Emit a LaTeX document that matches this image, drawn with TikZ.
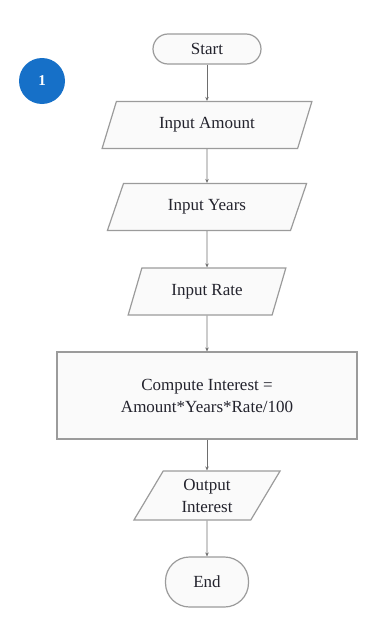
\documentclass[tikz,border=0pt]{standalone}
\usepackage{fontspec}
\setmainfont{Liberation Serif}
\usepackage{xcolor}
\usetikzlibrary{arrows.meta,shapes.geometric}
\definecolor{flowEdge}{RGB}{155,155,155}
\definecolor{flowLine}{RGB}{110,110,110}
\definecolor{flowFill}{RGB}{250,250,250}
\definecolor{flowText}{RGB}{35,35,45}
\definecolor{stepBlue}{RGB}{22,112,200}

\tikzset{
    base/.style={draw=flowEdge, line width=1.2pt, fill=flowFill, text=flowText,
        font=\fontsize{17}{22}\selectfont, align=center, inner sep=0pt},
    terminal/.style={base, rectangle, rounded corners=15pt},
    io/.style={base, trapezium, trapezium left angle=63, trapezium right angle=117,
        trapezium stretches=true, minimum height=47pt},
    process/.style={base, rectangle, minimum width=300pt, minimum height=87pt},
    flow/.style={draw=flowLine, line width=0.9pt, -{Stealth[length=4pt,width=3.5pt]}},
}

\begin{document}
\begin{tikzpicture}[x=1pt,y=-1pt]
    \useasboundingbox (0,0) rectangle (380,637);

    % step badge
    \node[circle, fill=stepBlue, minimum size=46pt, inner sep=0pt, text=white,
        font=\fontsize{15}{15}\selectfont\bfseries] (badge) at (42,81) {1};

    % flow chart
    \node[terminal, minimum width=108pt, minimum height=30pt] (start) at (207,49) {Start};
    \node[io, minimum width=210pt] (amount) at (207,125) {Input Amount};
    \node[io, minimum width=200pt] (years) at (207,207) {Input Years};
    \node[io, minimum width=159pt] (rate) at (207,291.5) {Input Rate};
    \node[process] (interest) at (207,395.5) {Compute Interest =\\Amount*Years*Rate/100};
    \node[io, minimum width=147pt, minimum height=49pt] (output) at (207,495.5) {Output\\Interest};
    \node[terminal, rounded corners=24pt, minimum width=83pt, minimum height=50pt] (stop) at (207,582) {End};

    % connectors
    \draw[flow] (start) -- (amount);
    \draw[flow] (amount) -- (years);
    \draw[flow] (years) -- (rate);
    \draw[flow] (rate) -- (interest);
    \draw[flow] (interest) -- (output);
    \draw[flow] (output) -- (stop);
\end{tikzpicture}
\end{document}
